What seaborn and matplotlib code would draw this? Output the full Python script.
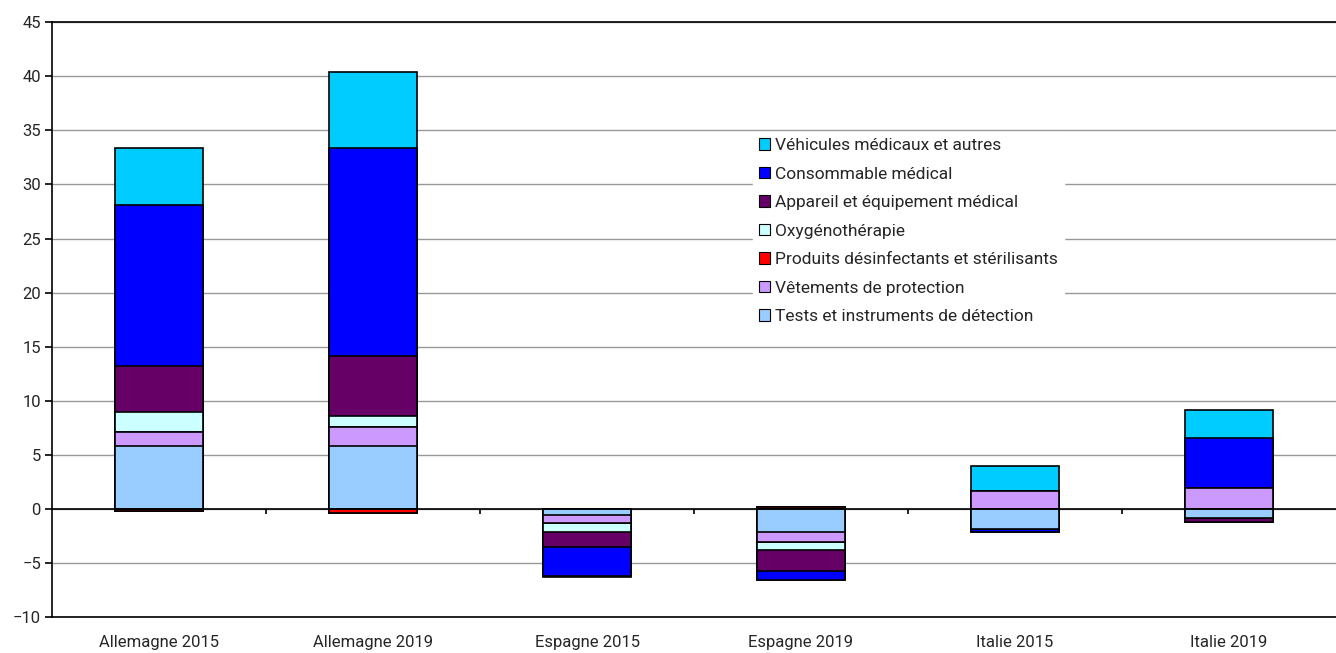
import pandas as pd
import numpy as np
import seaborn as sns
import matplotlib.pyplot as plt
from matplotlib.patches import Patch

# categories and series (bottom of stack first, as in the source workbook)
pays = ['Allemagne 2015', 'Allemagne 2019', 'Espagne 2015', 'Espagne 2019', 'Italie 2015', 'Italie 2019']
series = ['Tests et instruments de détection', 'Vêtements de protection',
          'Produits désinfectants et stérilisants', 'Oxygénothérapie',
          'Appareil et équipement médical', 'Consommable médical',
          'Véhicules médicaux et autres']
tests = [5.85, 5.8, -0.6, -2.1, -1.85, -0.85]
vetements = [1.3, 1.8, -0.7, -1.0, 1.7, 1.95]
produits = [-0.15, -0.4, 0.0, 0.2, 0.0, 0.0]
oxygene = [1.85, 1.0, -0.8, -0.7, 0.0, 0.0]
appareil = [4.2, 5.5, -1.4, -1.9, 0.0, -0.35]
consommable = [14.9, 19.3, -2.7, -0.9, -0.3, 4.65]
vehicules = [5.3, 7.0, -0.1, 0.0, 2.3, 2.55]
couleurs = ['#99ccff', '#cc99ff', '#ff0000', '#ccffff', '#660066', '#0000ff', '#00ccff']

values = np.array([tests, vetements, produits, oxygene, appareil, consommable, vehicules])

sns.set_style('white')
plt.rcParams['font.family'] = ['Roboto', 'DejaVu Sans']

fig = plt.figure(figsize=(13.36, 6.53), dpi=100)
ax = fig.add_axes([0.039, 0.055, 0.961, 0.911])

# stacked bars: positives and negatives accumulated separately, drawn top-down
pos_cum = np.cumsum(np.clip(values, 0, None), axis=0)
neg_cum = np.cumsum(np.clip(values, None, 0), axis=0)
for cum in (pos_cum, neg_cum):
    for k in range(len(series) - 1, -1, -1):
        if np.all(values[k] == 0):
            continue
        df = pd.DataFrame({'pays': pays, 'val': cum[k]})
        sns.barplot(data=df, x='pays', y='val', color=couleurs[k], saturation=1,
                    width=0.41, edgecolor='black', linewidth=1.2, errorbar=None, ax=ax)

ax.set_ylim(-10, 45)
ax.set_yticks(range(-10, 50, 5))
ax.set_xlim(-0.5, 5.5)
ax.grid(axis='y', color='#999999', linewidth=1)
ax.set_axisbelow(True)
ax.axhline(0, color='black', linewidth=1.2, zorder=1)
ax.vlines(np.arange(0.5, 5.5, 1), -0.5, 0, color='black', linewidth=1.2)
ax.set_xlabel('')
ax.set_ylabel('')
ax.tick_params(axis='x', length=0, labelsize=12, pad=13)
ax.tick_params(axis='y', length=5, width=1.2, labelsize=12, left=True, color='black', pad=3)
ax.spines['right'].set_visible(False)
for s in ['left', 'bottom', 'top']:
    ax.spines[s].set_color('black')
    ax.spines[s].set_linewidth(1.2)

handles = [Patch(facecolor=couleurs[k], edgecolor='black', linewidth=0.8, label=series[k])
           for k in range(len(series) - 1, -1, -1)]
leg = ax.legend(handles=handles, loc='upper left', bbox_to_anchor=(0.539, 0.83),
                frameon=True, fancybox=False, edgecolor='white', framealpha=1,
                fontsize=12.5, handlelength=0.65, handleheight=0.65, handletextpad=0.3,
                labelspacing=0.78, borderpad=0.35)

fig.savefig('out.png', dpi=100)
